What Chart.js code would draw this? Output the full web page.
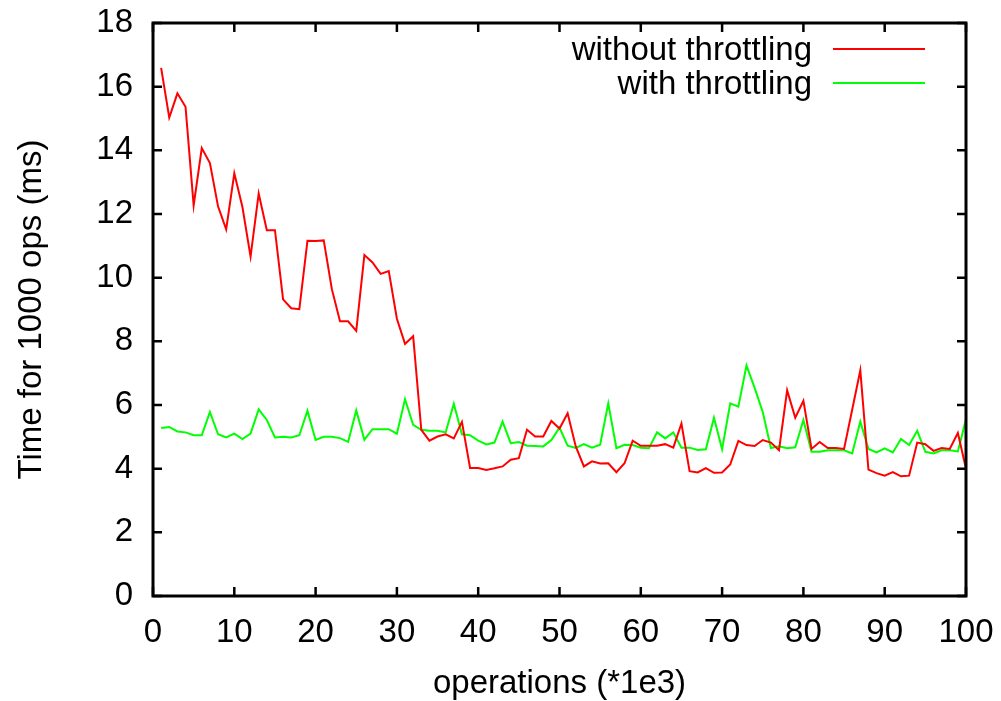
<!DOCTYPE html>
<html>
<head>
<meta charset="utf-8">
<script src="https://cdn.jsdelivr.net/npm/chart.js@4.4.0/dist/chart.umd.min.js"></script>
<style>
  html, body { margin: 0; padding: 0; background: #fff; }
  #wrap { width: 1001px; height: 701px; }
</style>
</head>
<body>
<div id="wrap"><canvas id="myChart" width="1001" height="701"></canvas></div>
<script>
// operations (*1e3)
var ops = [1,2,3,4,5,6,7,8,9,10,11,12,13,14,15,16,17,18,19,20,
  21,22,23,24,25,26,27,28,29,30,31,32,33,34,35,36,37,38,39,40,
  41,42,43,44,45,46,47,48,49,50,51,52,53,54,55,56,57,58,59,60,
  61,62,63,64,65,66,67,68,69,70,71,72,73,74,75,76,77,78,79,80,
  81,82,83,84,85,86,87,88,89,90,91,92,93,94,95,96,97,98,99,100];

var withoutThrottling = [16.59, 15.03, 15.79, 15.37, 12.27, 14.07, 13.6, 12.24, 11.52, 13.28,
  12.22, 10.66, 12.64, 11.49, 11.49, 9.32, 9.04, 9.01, 11.16, 11.15,
  11.17, 9.64, 8.63, 8.63, 8.33, 10.71, 10.48, 10.12, 10.21, 8.71,
  7.92, 8.16, 5.22, 4.88, 5.01, 5.08, 4.95, 5.47, 4.02, 4.02,
  3.96, 4.01, 4.07, 4.28, 4.33, 5.22, 5.01, 5.01, 5.5, 5.26,
  5.74, 4.7, 4.07, 4.23, 4.16, 4.17, 3.89, 4.17, 4.88, 4.72,
  4.72, 4.72, 4.77, 4.66, 5.42, 3.92, 3.88, 4.02, 3.87, 3.88,
  4.13, 4.87, 4.74, 4.71, 4.9, 4.82, 4.58, 6.46, 5.6, 6.13,
  4.62, 4.84, 4.65, 4.65, 4.62, 5.85, 7.09, 3.97, 3.86, 3.78,
  3.89, 3.76, 3.78, 4.82, 4.77, 4.56, 4.65, 4.62, 5.12, 4.0];

var withThrottling = [5.28, 5.31, 5.17, 5.14, 5.05, 5.05, 5.78, 5.08, 4.98, 5.1,
  4.93, 5.1, 5.86, 5.53, 4.98, 5.0, 4.98, 5.05, 5.82, 4.9,
  5.0, 5.0, 4.96, 4.84, 5.83, 4.91, 5.24, 5.24, 5.24, 5.1,
  6.18, 5.38, 5.22, 5.19, 5.19, 5.14, 6.04, 5.08, 5.05, 4.88,
  4.76, 4.82, 5.48, 4.8, 4.84, 4.72, 4.71, 4.7, 4.9, 5.29,
  4.72, 4.65, 4.77, 4.66, 4.75, 6.05, 4.64, 4.75, 4.74, 4.66,
  4.64, 5.14, 4.95, 5.14, 4.66, 4.66, 4.59, 4.61, 5.6, 4.61,
  6.05, 5.95, 7.24, 6.54, 5.78, 4.65, 4.7, 4.64, 4.67, 5.53,
  4.53, 4.53, 4.58, 4.58, 4.58, 4.48, 5.48, 4.62, 4.51, 4.64,
  4.51, 4.93, 4.74, 5.19, 4.53, 4.48, 4.58, 4.58, 4.54, 5.55];

var xTicks = [0, 10, 20, 30, 40, 50, 60, 70, 80, 90, 100];
var yTicks = [0, 2, 4, 6, 8, 10, 12, 14, 16, 18];

var FONT = '"Liberation Sans", Arial, sans-serif';
Chart.defaults.font.family = FONT;
Chart.defaults.font.size = 33;
Chart.defaults.color = '#000';

function pts(vals) {
  return ops.map(function (o, i) { return { x: o, y: vals[i] }; });
}

// gnuplot-like frame: full border, inward mirrored ticks, key in the top right
const gnuFrame = {
  id: 'gnuFrame',
  afterDatasetsDraw(chart) {
    const ctx = chart.ctx;
    const a = chart.chartArea;
    const xs = chart.scales.x, ys = chart.scales.y;
    ctx.save();
    ctx.strokeStyle = '#000';
    ctx.lineWidth = 2.5;
    ctx.beginPath();
    xTicks.forEach(function (v) {
      const px = xs.getPixelForValue(v);
      ctx.moveTo(px, a.bottom); ctx.lineTo(px, a.bottom - 9);
      ctx.moveTo(px, a.top); ctx.lineTo(px, a.top + 9);
    });
    yTicks.forEach(function (v) {
      const py = ys.getPixelForValue(v);
      ctx.moveTo(a.left, py); ctx.lineTo(a.left + 9, py);
      ctx.moveTo(a.right, py); ctx.lineTo(a.right - 9, py);
    });
    ctx.stroke();
    ctx.lineWidth = 3;
    ctx.strokeRect(a.left, a.top, a.right - a.left, a.bottom - a.top);

    // key
    ctx.font = '33px ' + FONT;
    ctx.textAlign = 'right';
    ctx.textBaseline = 'middle';
    chart.data.datasets.forEach(function (ds, i) {
      const yy = a.top + 26 + i * 34;
      ctx.fillStyle = '#000';
      ctx.fillText(ds.label, a.right - 154, yy + 2);
      ctx.strokeStyle = ds.borderColor;
      ctx.lineWidth = 2;
      ctx.beginPath();
      ctx.moveTo(a.right - 133, yy);
      ctx.lineTo(a.right - 41, yy);
      ctx.stroke();
    });
    ctx.restore();
  }
};

new Chart('myChart', {
  type: 'line',
  data: {
    datasets: [{
      label: 'without throttling',
      data: pts(withoutThrottling),
      borderColor: '#ff0000',
      borderWidth: 2,
      pointRadius: 0,
      tension: 0,
      fill: false
    }, {
      label: 'with throttling',
      data: pts(withThrottling),
      borderColor: '#00ff00',
      borderWidth: 2,
      pointRadius: 0,
      tension: 0,
      fill: false
    }]
  },
  options: {
    responsive: false,
    animation: false,
    layout: {
      padding: { left: 0, right: 35, top: 23, bottom: 0 }
    },
    plugins: {
      legend: { display: false },
      tooltip: { enabled: false }
    },
    scales: {
      x: {
        type: 'linear',
        min: 0,
        max: 100,
        afterFit: function (s) {
          s.height = 105;
          s.paddingLeft = 0;
          s.paddingRight = 0;
        },
        afterBuildTicks: function (s) { s.ticks = xTicks.map(function (v) { return { value: v }; }); },
        grid: { display: false, drawTicks: false },
        border: { display: false },
        ticks: { padding: 17, maxRotation: 0, autoSkip: false },
        title: {
          display: true,
          text: 'operations (*1e3)',
          padding: { top: 0, bottom: -3 }
        }
      },
      y: {
        min: 0,
        max: 18,
        afterFit: function (s) {
          s.width = 153;
          s.paddingTop = 0;
          s.paddingBottom = 0;
        },
        afterBuildTicks: function (s) { s.ticks = yTicks.map(function (v) { return { value: v }; }); },
        grid: { display: false, drawTicks: false },
        border: { display: false },
        ticks: { padding: 20, autoSkip: false },
        title: {
          display: true,
          text: 'Time for 1000 ops (ms)',
          padding: { top: 12, bottom: 0 }
        }
      }
    }
  },
  plugins: [gnuFrame]
});
</script>
</body>
</html>
